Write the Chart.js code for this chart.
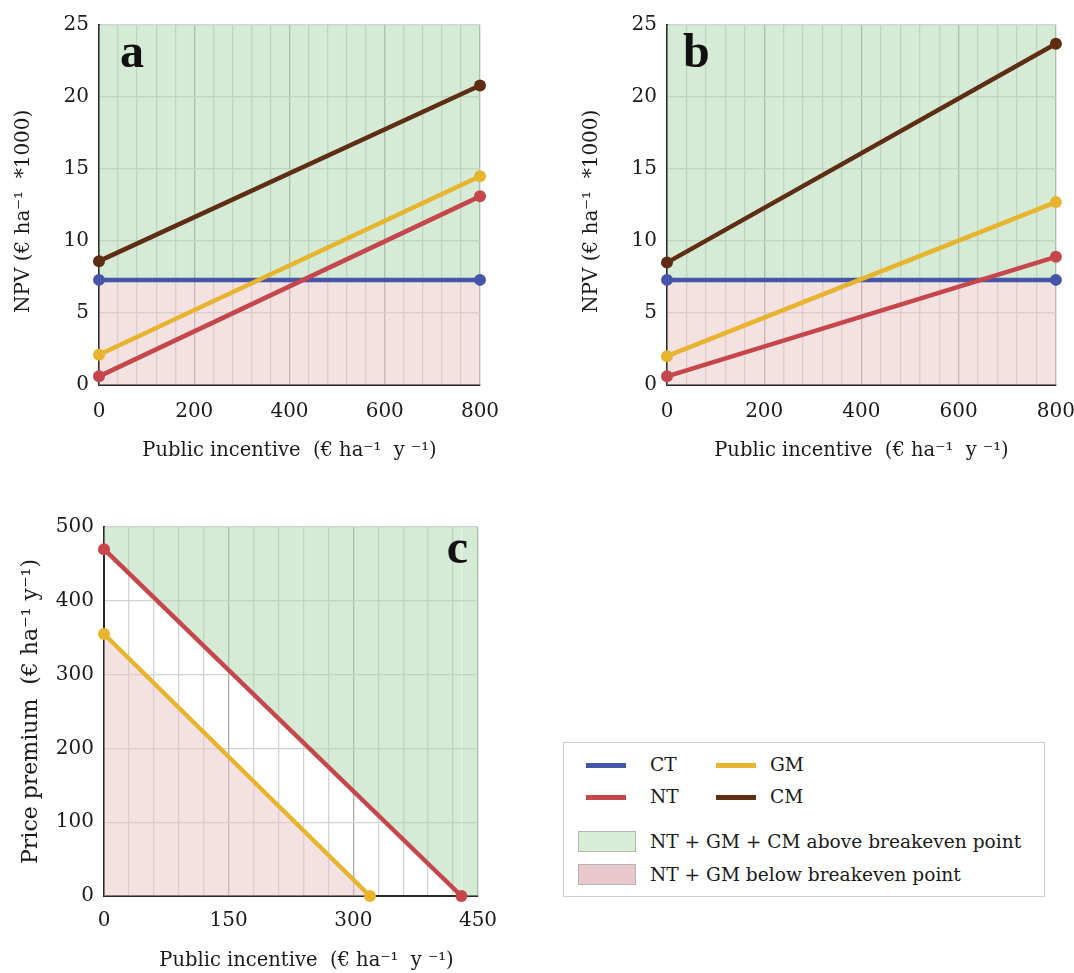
<!DOCTYPE html>
<html>
<head>
<meta charset="utf-8">
<title>NPV vs public incentive</title>
<script src="https://cdn.jsdelivr.net/npm/chart.js@4.4.1/dist/chart.umd.min.js"></script>
<style>
  html, body { margin: 0; padding: 0; background: #fff; overflow: hidden; }
  body { width: 1074px; height: 973px; position: relative; font-family: "DejaVu Serif", serif; color: #1a1a1a; }
  canvas { position: absolute; }
  #legend { position: absolute; left: 563px; top: 742px; width: 482px; height: 155px;
            border: 1.5px solid #cfcfcf; box-sizing: border-box; }
  #legend .sw { position: absolute; height: 5px; }
  #legend .box { position: absolute; width: 58px; height: 21px; border: 1.5px solid #b5b5b5; box-sizing: border-box; }
  #legend .txt { position: absolute; font-size: 18.6px; line-height: 26px; white-space: pre; }
</style>
</head>
<body>
<canvas id="chart-a" width="540" height="475" style="left:0;top:0"></canvas>
<canvas id="chart-b" width="530" height="475" style="left:560px;top:0"></canvas>
<canvas id="chart-c" width="540" height="493" style="left:0;top:480px"></canvas>
<div id="legend"></div>

<script>
// ---------- Data ----------

const SERIES        = ["CT", "NT", "GM", "CM"];
const SERIES_COLORS = ["#4556a8", "#c5464b", "#e6b42d", "#5d2d14"];
const AREA_LABELS   = ["NT + GM + CM above breakeven point", "NT + GM below breakeven point"];

// panels a, b: NPV (k€/ha) at public incentive 0 and 800 €/ha/y
const NPV_X   = [0, 800];
const A_CT    = [7.3, 7.3];
const A_NT    = [0.6, 13.1];
const A_GM    = [2.1, 14.5];
const A_CM    = [8.6, 20.8];
const B_CT    = [7.3, 7.3];
const B_NT    = [0.6, 8.9];
const B_GM    = [2.0, 12.7];
const B_CM    = [8.5, 23.7];
const NPV_X_LABELS = [0, 200, 400, 600, 800];

// panel c: price premium vs public incentive (breakeven lines)
const C_NT_X = [0, 430];
const C_NT_Y = [470, 0];
const C_GM_X = [0, 320];
const C_GM_Y = [355, 0];
const C_X_LABELS = [0, 150, 300, 450];

// ---------- Styling ----------

const FONT     = '"DejaVu Serif", serif';
const FONT_B   = '"Liberation Serif", serif';
const TEXT     = "#1a1a1a";
const GREEN    = "rgba(171, 215, 171, 0.5)";   // -> #d5ebd5 over white
const PINK     = "rgba(233, 195, 197, 0.5)";   // -> #f4e1e2 over white
const MAJOR    = "#a9a9a9";
const MINOR    = "#d2d2d2";
const AXIS     = "#2a2a2a";
const LINE_W   = 4.5;
const DOT_R    = 6;

const color = name => SERIES_COLORS[SERIES.indexOf(name)];
const pts = (xs, ys) => xs.map((x, i) => ({ x, y: ys[i] }));

// panel letter drawn relative to the plot area
const panelLetter = {
  id: "panelLetter",
  afterDraw(chart, args, o) {
    const { ctx, chartArea } = chart;
    ctx.save();
    ctx.font = `bold 48px ${FONT_B}`;
    ctx.fillStyle = "#111";
    ctx.textAlign = o.align;
    ctx.textBaseline = "alphabetic";
    const x = o.align === "right" ? chartArea.right - o.dx : chartArea.left + o.dx;
    ctx.fillText(o.text, x, chartArea.top + o.dy);
    ctx.restore();
  },
};

function lineDs(label, data, extra) {
  const c = color(label);
  return Object.assign({
    label, data,
    borderColor: c, backgroundColor: c,
    borderWidth: LINE_W,
    pointRadius: DOT_R, pointHoverRadius: DOT_R,
    pointBackgroundColor: c, pointBorderColor: c, pointBorderWidth: 0,
    fill: false, clip: false,
  }, extra || {});
}

function scales(cfg) {
  return {
    x: {
      type: "linear", min: cfg.xMin, max: cfg.xMax,
      afterFit: s => { s.height = cfg.xHeight; },
      ticks: {
        stepSize: cfg.xStep, autoSkip: false, maxRotation: 0, padding: cfg.xTickPad,
        color: TEXT, font: { family: FONT, size: 20 },
        callback: v => (cfg.xLabels.includes(v) ? String(v) : ""),
      },
      grid: {
        drawTicks: false, lineWidth: 1.3,
        color: c => (c.tick && cfg.xLabels.includes(c.tick.value) ? MAJOR : MINOR),
      },
      border: { display: true, color: AXIS, width: 2 },
      title: {
        display: true, text: cfg.xTitle, color: TEXT,
        font: { family: FONT, size: 19.5 },
        padding: { top: cfg.xTitlePad, bottom: cfg.xTitlePad },
      },
    },
    y: {
      min: cfg.yMin, max: cfg.yMax,
      afterFit: s => { s.width = cfg.yWidth; },
      ticks: { stepSize: cfg.yStep, padding: 10, color: TEXT, font: { family: FONT, size: 20 } },
      grid: { drawTicks: false, color: MINOR, lineWidth: 1.3 },
      border: { display: true, color: AXIS, width: 2 },
      title: {
        display: true, text: cfg.yTitle, color: TEXT,
        font: { family: FONT, size: cfg.yTitleSize },
        padding: { top: cfg.yTitlePad, bottom: cfg.yTitlePad },
      },
    },
  };
}

function baseOptions(cfg) {
  return {
    responsive: false,
    animation: false,
    layout: { padding: cfg.padding },
    plugins: {
      legend: { display: false },
      tooltip: { enabled: false },
      filler: { drawTime: "beforeDatasetsDraw" },
      panelLetter: cfg.letter,
    },
    scales: scales(cfg),
  };
}

// ---------- Panels a and b ----------

function npvChart(canvasId, ct, nt, gm, cm, layout) {
  const ctPts = pts(NPV_X, ct);
  const cfg = Object.assign({
    xMin: 0, xMax: 800, xStep: 40, xLabels: NPV_X_LABELS, xHeight: 90, xTitlePad: 12, xTickPad: 15,
    xTitle: "Public incentive  (€ ha⁻¹  y ⁻¹)",
    yMin: 0, yMax: 25, yStep: 5, yTitle: "NPV (€ ha⁻¹  *1000)  ", yTitleSize: 20,
  }, layout);
  return new Chart(document.getElementById(canvasId), {
    type: "line",
    data: {
      datasets: [
        lineDs("CM", pts(NPV_X, cm)),
        lineDs("GM", pts(NPV_X, gm)),
        lineDs("NT", pts(NPV_X, nt)),
        lineDs("CT", ctPts, { fill: "end", backgroundColor: GREEN }),
        // same CT line again, only to shade the band below it
        { label: "below", data: ctPts, borderWidth: 0, pointRadius: 0, fill: "start", backgroundColor: PINK },
      ],
    },
    options: baseOptions(cfg),
    plugins: [panelLetter],
  });
}

npvChart("chart-a", A_CT, A_NT, A_GM, A_CM, {
  padding: { top: 25, right: 60, left: 0, bottom: 0 },
  yWidth: 99, yTitlePad: 12,
  letter: { text: "a", align: "left", dx: 21, dy: 42 },
});

npvChart("chart-b", B_CT, B_NT, B_GM, B_CM, {
  padding: { top: 25, right: 33, left: 0, bottom: 0 },
  yWidth: 107, yTitlePad: 20,
  letter: { text: "b", align: "left", dx: 16, dy: 42 },
});

// ---------- Panel c ----------

(function () {
  const xMax = C_X_LABELS[C_X_LABELS.length - 1];
  // NT line carries on along the x axis to the right edge (hidden) so its
  // green fill covers the whole area above breakeven
  const ntData = pts(C_NT_X, C_NT_Y).concat([{ x: xMax, y: 0 }]);
  const last = ntData.length - 1;
  const cfg = {
    xMin: 0, xMax, xStep: 30, xLabels: C_X_LABELS, xHeight: 77, xTitlePad: 0, xTickPad: 13,
    xTitle: "     Public incentive  (€ ha⁻¹  y ⁻¹)",
    yMin: 0, yMax: 500, yStep: 100, yTitle: "Price premium  (€ ha⁻¹ y⁻¹)", yTitleSize: 22,
    padding: { top: 47, right: 62, left: 0, bottom: 0 },
    yWidth: 104, yTitlePad: 18,
    letter: { text: "c", align: "right", dx: 10, dy: 36 },
  };
  new Chart(document.getElementById("chart-c"), {
    type: "line",
    data: {
      datasets: [
        lineDs("GM", pts(C_GM_X, C_GM_Y), { fill: "start", backgroundColor: PINK }),
        lineDs("NT", ntData, {
          fill: "end", backgroundColor: GREEN,
          pointRadius: ntData.map((_, i) => (i === last ? 0 : DOT_R)),
          segment: { borderColor: s => (s.p1DataIndex === last ? "rgba(0,0,0,0)" : undefined) },
        }),
      ],
    },
    options: baseOptions(cfg),
    plugins: [panelLetter],
  });
})();

// ---------- Legend ----------

(function () {
  const legend = document.getElementById("legend");
  const add = (cls, css, text) => {
    const el = document.createElement("div");
    el.className = cls;
    Object.assign(el.style, css);
    if (text) el.textContent = text;
    legend.appendChild(el);
  };
  const order = ["CT", "NT", "GM", "CM"];   // two columns, two rows
  order.forEach((name, i) => {
    const col = Math.floor(i / 2), row = i % 2;
    const sx = col ? 152 : 22, tx = col ? 206 : 86;
    const cy = 22 + row * 32;
    add("sw", { left: sx + "px", top: (cy - 2.5) + "px", width: "40px", background: color(name) });
    add("txt", { left: tx + "px", top: (cy - 13) + "px" }, name);
  });
  const boxFill = ["#d6eed6", "#e9c9cd"];
  AREA_LABELS.forEach((lab, i) => {
    const top = 88 + i * 33;
    add("box", { left: "14px", top: top + "px", background: boxFill[i] });
    add("txt", { left: "86px", top: (top - 2) + "px" }, lab);
  });
})();
</script>
</body>
</html>
